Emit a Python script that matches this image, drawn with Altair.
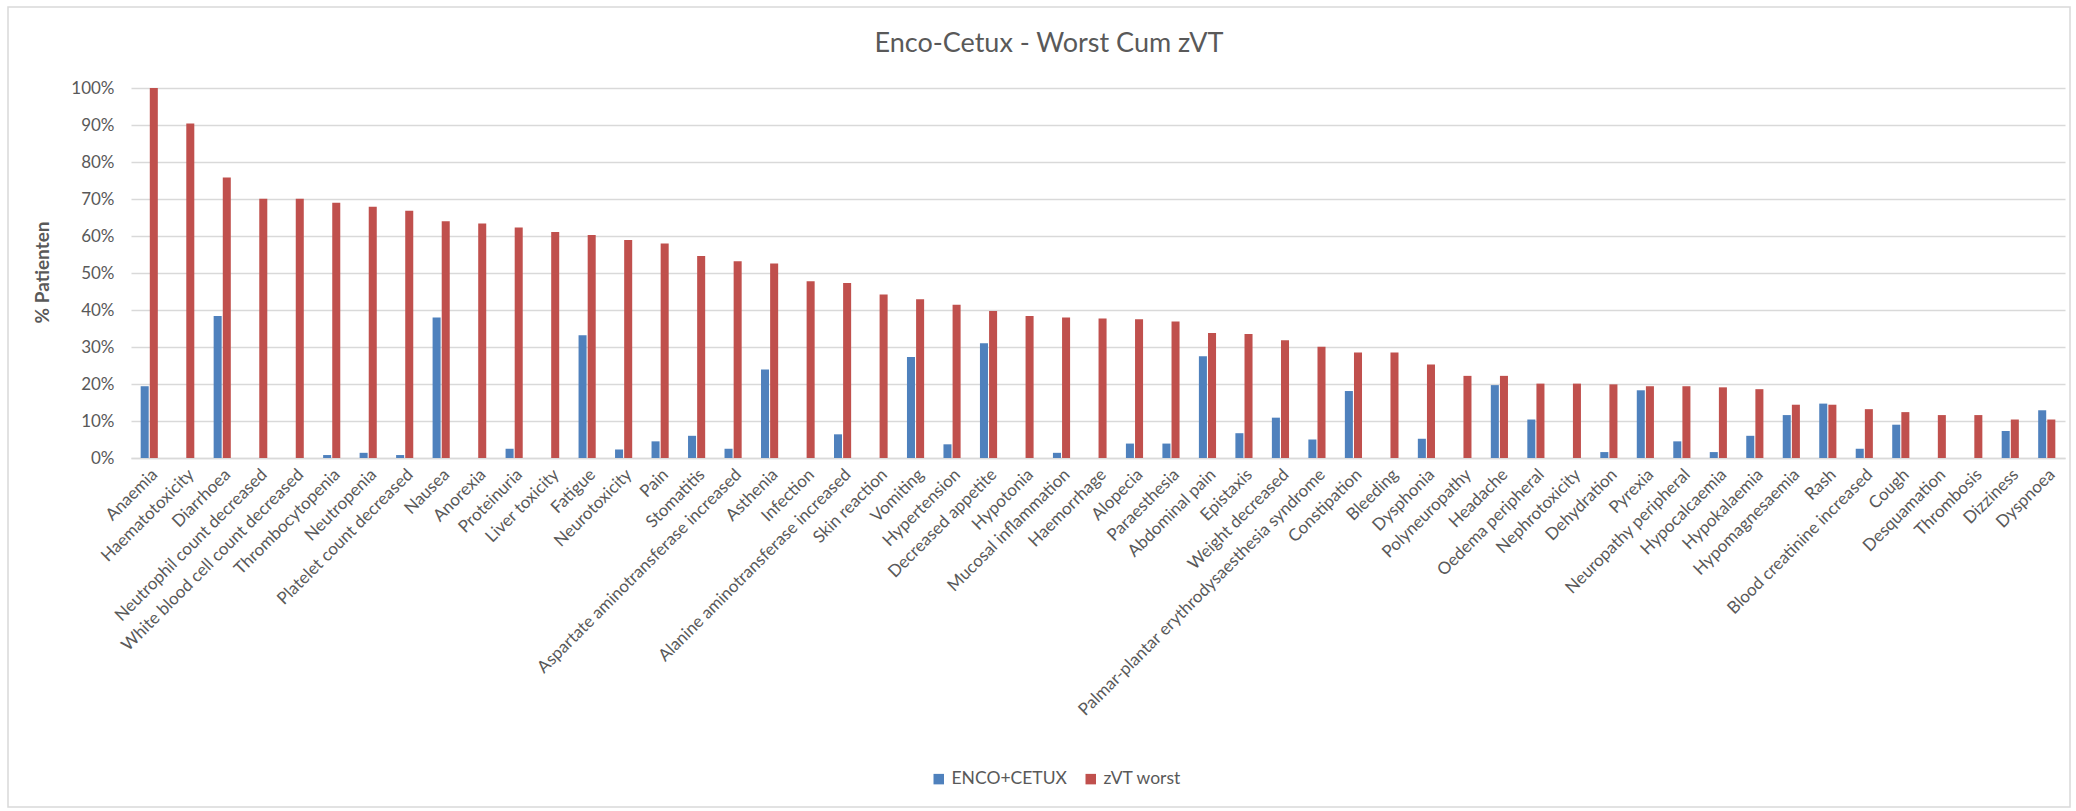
import altair as alt
import pandas as pd

# Adverse events, ordered by the zVT worst-case percentage
events = [
    "Anaemia", "Haematotoxicity", "Diarrhoea", "Neutrophil count decreased",
    "White blood cell count decreased", "Thrombocytopenia", "Neutropenia",
    "Platelet count decreased", "Nausea", "Anorexia", "Proteinuria",
    "Liver toxicity", "Fatigue", "Neurotoxicity", "Pain", "Stomatitis",
    "Aspartate aminotransferase increased", "Asthenia", "Infection",
    "Alanine aminotransferase increased", "Skin reaction", "Vomiting",
    "Hypertension", "Decreased appetite", "Hypotonia", "Mucosal inflammation",
    "Haemorrhage", "Alopecia", "Paraesthesia", "Abdominal pain", "Epistaxis",
    "Weight decreased", "Palmar-plantar erythrodysaesthesia syndrome",
    "Constipation", "Bleeding", "Dysphonia", "Polyneuropathy", "Headache",
    "Oedema peripheral", "Nephrotoxicity", "Dehydration", "Pyrexia",
    "Neuropathy peripheral", "Hypocalcaemia", "Hypokalaemia",
    "Hypomagnesaemia", "Rash", "Blood creatinine increased", "Cough",
    "Desquamation", "Thrombosis", "Dizziness", "Dyspnoea",
]

enco_cetux = [
    0.194, 0.0, 0.384, 0.0, 0.0, 0.008, 0.014, 0.008, 0.380, 0.0, 0.025,
    0.0, 0.332, 0.023, 0.045, 0.060, 0.025, 0.239, 0.0, 0.064, 0.0, 0.273,
    0.037, 0.310, 0.0, 0.014, 0.0, 0.039, 0.039, 0.275, 0.067, 0.109,
    0.050, 0.181, 0.0, 0.052, 0.0, 0.197, 0.104, 0.0, 0.016, 0.183,
    0.045, 0.016, 0.060, 0.116, 0.147, 0.025, 0.090, 0.0, 0.0, 0.073, 0.129,
]

zvt_worst = [
    1.000, 0.904, 0.758, 0.701, 0.701, 0.690, 0.679, 0.668, 0.640, 0.634,
    0.623, 0.611, 0.603, 0.589, 0.580, 0.546, 0.532, 0.526, 0.478, 0.473,
    0.442, 0.429, 0.414, 0.397, 0.384, 0.380, 0.377, 0.375, 0.369, 0.338,
    0.335, 0.318, 0.301, 0.285, 0.285, 0.253, 0.222, 0.222, 0.201, 0.201,
    0.199, 0.194, 0.194, 0.191, 0.186, 0.144, 0.144, 0.132, 0.124, 0.116,
    0.116, 0.104, 0.104,
]

series_names = ["ENCO+CETUX", "zVT worst"]
series_colors = ["#4F81BD", "#C0504D"]
y_ticks = [i / 10 for i in range(11)]
chart_title = "Enco-Cetux - Worst Cum zVT"

rows = []
for name, values in zip(series_names, [enco_cetux, zvt_worst]):
    for ev, v in zip(events, values):
        rows.append({"event": ev, "series": name, "pct": v})
df = pd.DataFrame(rows)

FONT = "Lato"
GREY = "#595959"
GRID = "#d9d9d9"

bars = alt.Chart(df).mark_bar().encode(
    x=alt.X(
        "event:N",
        sort=events,
        title=None,
        scale=alt.Scale(paddingInner=0.53, paddingOuter=0.265),
        axis=alt.Axis(
            labelAngle=-45,
            labelFontSize=17,
            labelColor=GREY,
            labelFont=FONT,
            labelLimit=0,
            labelOverlap=False,
            labelPadding=8,
            ticks=False,
            domainColor=GRID,
            domainWidth=1.5,
        ),
    ),
    xOffset=alt.XOffset("series:N", sort=series_names,
                        scale=alt.Scale(paddingInner=0.12)),
    y=alt.Y(
        "pct:Q",
        scale=alt.Scale(domain=[0, 1], nice=False),
        axis=alt.Axis(
            values=y_ticks,
            format=".0%",
            title="% Patienten",
            titleFont=FONT,
            titleFontSize=19,
            titleFontWeight="bold",
            titleColor=GREY,
            titleAngle=-90,
            titleX=-89,
            titleY=184,
            titleAlign="center",
            titleBaseline="middle",
            labelFontSize=17,
            labelColor=GREY,
            labelFont=FONT,
            labelPadding=17,
            ticks=False,
            domain=False,
            gridColor=GRID,
            gridWidth=1.5,
        ),
    ),
    color=alt.Color(
        "series:N",
        sort=series_names,
        scale=alt.Scale(domain=series_names, range=series_colors),
        legend=alt.Legend(
            title=None,
            orient="none",
            direction="horizontal",
            legendX=799,
            legendY=682,
            symbolType="square",
            symbolSize=110,
            symbolStrokeWidth=0,
            labelFontSize=17.5,
            labelFont=FONT,
            labelColor=GREY,
            columnPadding=15,
            padding=0,
        ),
    ),
)

# light border around the whole chart area
frame = alt.Chart(pd.DataFrame({"k": [0]})).mark_rect(
    filled=False, stroke=GRID, strokeWidth=1.5
).encode(
    x=alt.value(-123), x2=alt.value(1939),
    y=alt.value(-81), y2=alt.value(719),
)

# chart heading, centred over the chart area
heading = alt.Chart(pd.DataFrame({"t": [chart_title]})).mark_text(
    font=FONT, fontSize=27, color=GREY, align="center", baseline="middle"
).encode(
    text="t:N",
    x=alt.value(918),
    y=alt.value(-44),
)

chart = alt.layer(frame, heading, bars).properties(
    width=1934,
    height=370,
    padding={"left": 131, "top": 88, "right": 11, "bottom": 353},
    autosize=alt.AutoSizeParams(type="none"),
    background="white",
).configure_view(stroke=None)

chart.save("out.html", embed_options={"renderer": "svg", "actions": False})
